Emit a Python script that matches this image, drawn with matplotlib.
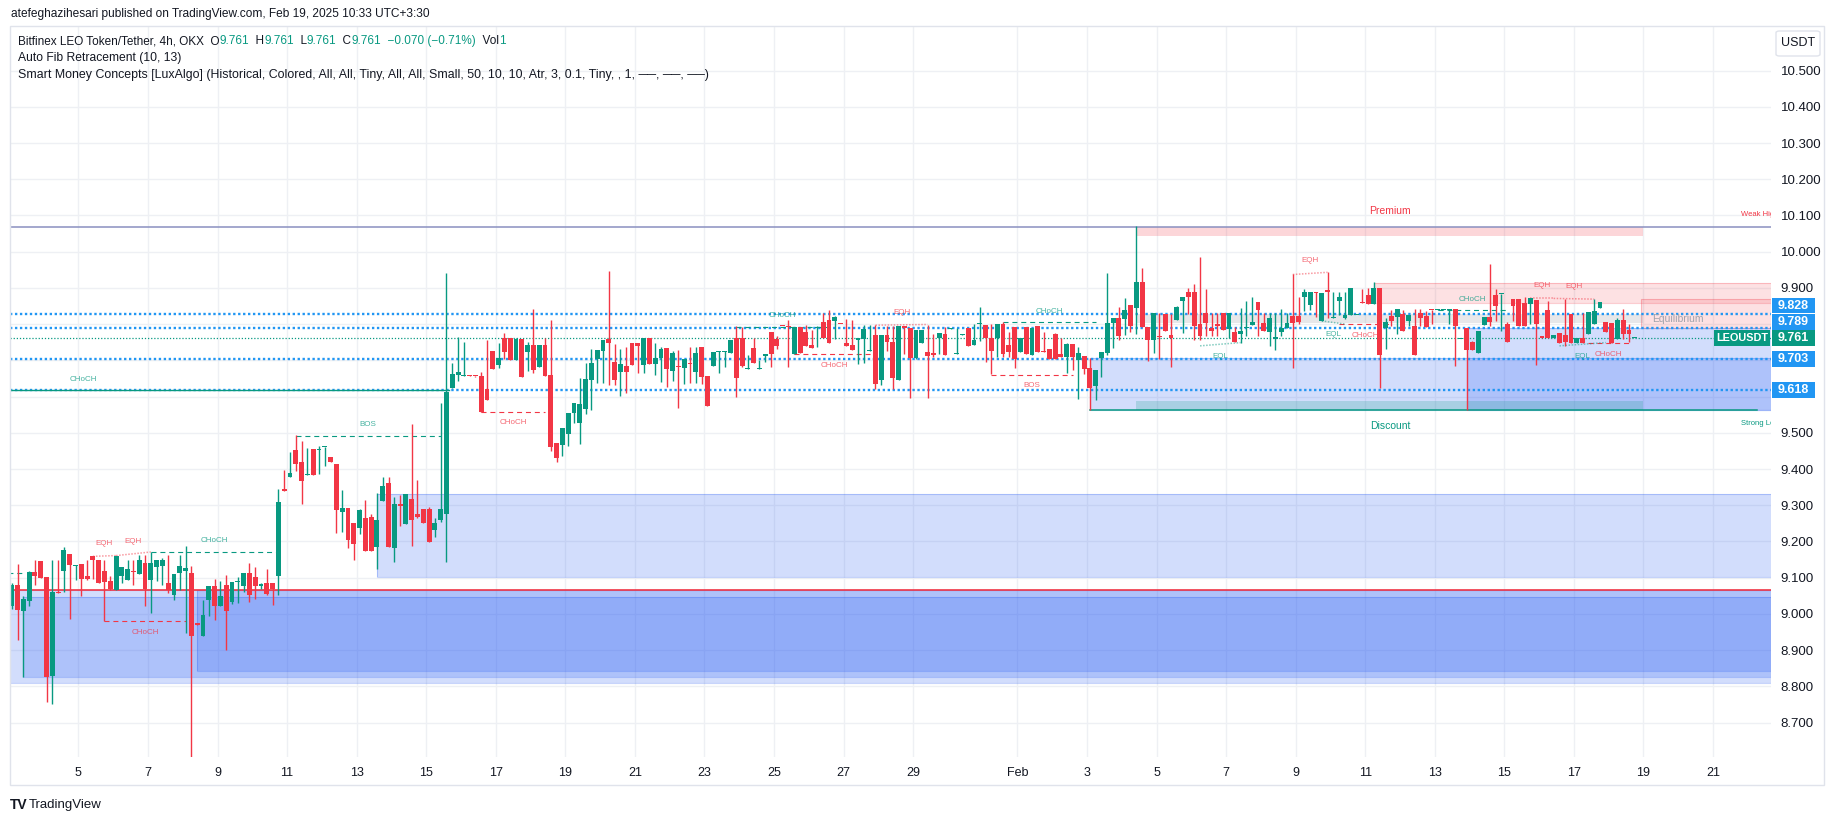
import numpy as np
import pandas as pd
import matplotlib
matplotlib.use("Agg")
import matplotlib.pyplot as plt
import matplotlib.dates as mdates
import matplotlib.transforms as mtransforms
from matplotlib.patches import Rectangle, FancyBboxPatch

plt.rcParams['font.family'] = ['Liberation Sans', 'DejaVu Sans']

# ---- LEO/USDT 4h candles (OKX) ----
first_bar = '2025-01-03 02:00'
opens = [
    9.021, 9.081, 9.007, 9.037, 9.116, 9.147, 9.101, 8.828, 9.061, 9.118,
    9.166, 9.133, 9.139, 9.106, 9.159, 9.150, 9.118, 9.092, 9.065, 9.104,
    9.095, 9.119, 9.111, 9.141, 9.095, 9.129, 9.133, 9.085, 9.051, 9.112,
    9.118, 9.113, 8.976, 8.938, 9.039, 9.078, 9.021, 9.081, 9.033, 9.089,
    9.076, 9.113, 9.102, 9.078, 9.085, 9.085, 9.104, 9.345, 9.378, 9.452,
    9.418, 9.384, 9.454, 9.452, 9.460, 9.432, 9.413, 9.280, 9.292, 9.250,
    9.236, 9.264, 9.268, 9.185, 9.312, 9.361, 9.181, 9.303, 9.249, 9.316,
    9.275, 9.289, 9.289, 9.232, 9.259, 9.277, 9.623, 9.660, 9.656, 9.659,
    9.657, 9.656, 9.622, 9.725, 9.687, 9.763, 9.763, 9.701, 9.758, 9.724,
    9.741, 9.682, 9.741, 9.659, 9.471, 9.466, 9.496, 9.556, 9.526, 9.565,
    9.646, 9.703, 9.726, 9.758, 9.696, 9.668, 9.684, 9.747, 9.747, 9.687,
    9.761, 9.690, 9.706, 9.735, 9.671, 9.685, 9.678, 9.692, 9.668, 9.738,
    9.656, 9.684, 9.723, 9.723, 9.719, 9.763, 9.763, 9.675, 9.733, 9.675,
    9.712, 9.779, 9.758, 9.796, 9.794, 9.717, 9.793, 9.779, 9.743, 9.788,
    9.807, 9.811, 9.809, 9.801, 9.748, 9.743, 9.756, 9.759, 9.725, 9.770,
    9.646, 9.770, 9.752, 9.646, 9.795, 9.789, 9.706, 9.748, 9.722, 9.718,
    9.762, 9.772, 9.787, 9.718, 9.771, 9.788, 9.743, 9.800, 9.797, 9.763,
    9.761, 9.800, 9.743, 9.793, 9.722, 9.791, 9.715, 9.795, 9.725, 9.731,
    9.772, 9.717, 9.708, 9.745, 9.702, 9.711, 9.679, 9.630, 9.706, 9.719,
    9.803, 9.817, 9.814, 9.853, 9.844, 9.915, 9.791, 9.757, 9.767, 9.828,
    9.770, 9.811, 9.864, 9.890, 9.890, 9.800, 9.830, 9.788, 9.799, 9.830,
    9.786, 9.777, 9.774, 9.788, 9.798, 9.860, 9.803, 9.779, 9.759, 9.777,
    9.788, 9.823, 9.823, 9.876, 9.853, 9.890, 9.809, 9.892, 9.816, 9.864,
    9.818, 9.825, 9.824, 9.861, 9.880, 9.855, 9.899, 9.789, 9.822, 9.820,
    9.828, 9.809, 9.795, 9.830, 9.822, 9.840, 9.839, 9.840, 9.840, 9.841,
    9.758, 9.789, 9.752, 9.719, 9.798, 9.821, 9.880, 9.882, 9.800, 9.869,
    9.869, 9.858, 9.855, 9.867, 9.765, 9.839, 9.763, 9.775, 9.770, 9.828,
    9.748, 9.761, 9.772, 9.800, 9.844, 9.805, 9.802, 9.759, 9.811, 9.784,
    9.761]
highs = [
    9.085, 9.139, 9.049, 9.118, 9.150, 9.147, 9.101, 9.150, 9.150, 9.185,
    9.166, 9.135, 9.139, 9.150, 9.159, 9.150, 9.150, 9.104, 9.161, 9.130,
    9.148, 9.150, 9.162, 9.164, 9.171, 9.150, 9.154, 9.162, 9.111, 9.162,
    9.188, 9.131, 8.976, 9.039, 9.078, 9.097, 9.090, 9.108, 9.088, 9.101,
    9.113, 9.141, 9.129, 9.085, 9.124, 9.085, 9.345, 9.398, 9.448, 9.493,
    9.476, 9.459, 9.454, 9.464, 9.462, 9.432, 9.413, 9.341, 9.292, 9.250,
    9.289, 9.314, 9.275, 9.333, 9.378, 9.378, 9.323, 9.327, 9.330, 9.523,
    9.369, 9.289, 9.294, 9.266, 9.581, 9.942, 9.692, 9.765, 9.752, 9.659,
    9.658, 9.669, 9.755, 9.725, 9.749, 9.775, 9.763, 9.763, 9.758, 9.752,
    9.841, 9.741, 9.763, 9.811, 9.471, 9.514, 9.556, 9.581, 9.650, 9.694,
    9.730, 9.728, 9.755, 9.948, 9.744, 9.730, 9.736, 9.747, 9.747, 9.763,
    9.761, 9.749, 9.738, 9.735, 9.725, 9.728, 9.703, 9.738, 9.738, 9.738,
    9.656, 9.724, 9.725, 9.725, 9.755, 9.795, 9.793, 9.716, 9.763, 9.701,
    9.718, 9.779, 9.767, 9.796, 9.811, 9.793, 9.793, 9.797, 9.784, 9.795,
    9.830, 9.839, 9.823, 9.801, 9.814, 9.811, 9.763, 9.798, 9.797, 9.797,
    9.770, 9.795, 9.795, 9.795, 9.795, 9.789, 9.784, 9.784, 9.797, 9.772,
    9.775, 9.791, 9.789, 9.788, 9.773, 9.788, 9.800, 9.848, 9.797, 9.800,
    9.800, 9.805, 9.779, 9.793, 9.761, 9.791, 9.789, 9.795, 9.779, 9.731,
    9.775, 9.763, 9.748, 9.745, 9.736, 9.711, 9.706, 9.673, 9.722, 9.941,
    9.817, 9.848, 9.872, 9.853, 10.070, 9.955, 9.791, 9.832, 9.830, 9.828,
    9.828, 9.851, 9.876, 9.899, 9.910, 9.984, 9.897, 9.832, 9.830, 9.830,
    9.830, 9.791, 9.844, 9.863, 9.874, 9.860, 9.830, 9.830, 9.830, 9.841,
    9.830, 9.938, 9.874, 9.897, 9.889, 9.890, 9.886, 9.943, 9.888, 9.890,
    9.888, 9.899, 9.826, 9.897, 9.901, 9.915, 9.899, 9.816, 9.839, 9.841,
    9.839, 9.825, 9.841, 9.841, 9.836, 9.840, 9.841, 9.841, 9.841, 9.841,
    9.760, 9.789, 9.754, 9.780, 9.821, 9.966, 9.897, 9.884, 9.807, 9.869,
    9.869, 9.874, 9.871, 9.867, 9.765, 9.864, 9.770, 9.775, 9.869, 9.828,
    9.761, 9.830, 9.834, 9.869, 9.860, 9.805, 9.802, 9.818, 9.841, 9.800,
    9.761]
lows = [
    9.014, 8.929, 8.826, 9.021, 9.079, 9.099, 8.756, 8.750, 9.057, 9.060,
    8.987, 9.095, 9.049, 9.094, 9.096, 9.084, 8.980, 9.065, 9.065, 9.084,
    9.095, 9.079, 9.111, 9.021, 9.003, 9.090, 9.079, 9.058, 9.039, 9.065,
    8.947, 8.602, 8.969, 8.938, 8.993, 8.984, 9.021, 8.901, 9.026, 9.030,
    9.060, 9.032, 9.042, 9.068, 9.053, 9.024, 9.053, 9.338, 9.378, 9.395,
    9.303, 9.384, 9.384, 9.385, 9.407, 9.418, 9.224, 9.227, 9.181, 9.149,
    9.220, 9.174, 9.174, 9.123, 9.312, 9.185, 9.144, 9.243, 9.249, 9.188,
    9.266, 9.252, 9.199, 9.213, 9.254, 9.144, 9.623, 9.643, 9.656, 9.656,
    9.655, 9.557, 9.591, 9.675, 9.678, 9.705, 9.701, 9.701, 9.654, 9.671,
    9.664, 9.682, 9.657, 9.450, 9.418, 9.436, 9.464, 9.528, 9.468, 9.553,
    9.563, 9.637, 9.637, 9.632, 9.632, 9.602, 9.609, 9.687, 9.664, 9.664,
    9.690, 9.659, 9.640, 9.626, 9.643, 9.568, 9.636, 9.638, 9.638, 9.636,
    9.574, 9.684, 9.664, 9.681, 9.719, 9.599, 9.681, 9.675, 9.692, 9.675,
    9.695, 9.682, 9.730, 9.794, 9.682, 9.717, 9.720, 9.740, 9.735, 9.736,
    9.763, 9.748, 9.759, 9.799, 9.740, 9.729, 9.690, 9.692, 9.725, 9.621,
    9.633, 9.725, 9.621, 9.646, 9.717, 9.596, 9.703, 9.748, 9.596, 9.708,
    9.717, 9.715, 9.787, 9.718, 9.771, 9.740, 9.743, 9.754, 9.696, 9.662,
    9.708, 9.708, 9.708, 9.680, 9.722, 9.717, 9.715, 9.724, 9.723, 9.703,
    9.703, 9.708, 9.665, 9.673, 9.593, 9.662, 9.563, 9.591, 9.653, 9.715,
    9.734, 9.757, 9.771, 9.777, 9.772, 9.791, 9.699, 9.720, 9.703, 9.782,
    9.682, 9.811, 9.775, 9.828, 9.757, 9.757, 9.768, 9.768, 9.768, 9.784,
    9.763, 9.751, 9.749, 9.768, 9.798, 9.768, 9.782, 9.740, 9.729, 9.768,
    9.788, 9.679, 9.800, 9.837, 9.839, 9.821, 9.809, 9.818, 9.816, 9.824,
    9.815, 9.825, 9.824, 9.859, 9.855, 9.855, 9.623, 9.731, 9.794, 9.772,
    9.782, 9.795, 9.715, 9.795, 9.791, 9.800, 9.839, 9.839, 9.800, 9.685,
    9.758, 9.563, 9.729, 9.719, 9.798, 9.794, 9.809, 9.782, 9.751, 9.809,
    9.795, 9.795, 9.799, 9.687, 9.763, 9.761, 9.763, 9.748, 9.740, 9.748,
    9.748, 9.748, 9.772, 9.800, 9.844, 9.779, 9.748, 9.759, 9.759, 9.751,
    9.761]
closes = [
    9.081, 9.010, 9.042, 9.116, 9.104, 9.099, 8.825, 9.061, 9.057, 9.177,
    9.134, 9.135, 9.097, 9.097, 9.148, 9.084, 9.087, 9.070, 9.161, 9.130,
    9.125, 9.115, 9.150, 9.070, 9.141, 9.150, 9.150, 9.065, 9.111, 9.133,
    9.128, 8.938, 8.969, 8.998, 9.078, 9.021, 9.050, 9.007, 9.088, 9.092,
    9.113, 9.051, 9.076, 9.082, 9.056, 9.070, 9.310, 9.338, 9.389, 9.413,
    9.367, 9.387, 9.384, 9.454, 9.462, 9.420, 9.287, 9.292, 9.204, 9.192,
    9.286, 9.174, 9.174, 9.259, 9.353, 9.185, 9.303, 9.298, 9.330, 9.259,
    9.268, 9.252, 9.199, 9.252, 9.289, 9.614, 9.661, 9.669, 9.660, 9.657,
    9.656, 9.557, 9.591, 9.675, 9.706, 9.724, 9.701, 9.758, 9.654, 9.742,
    9.673, 9.741, 9.657, 9.461, 9.431, 9.514, 9.556, 9.581, 9.579, 9.648,
    9.694, 9.728, 9.755, 9.747, 9.645, 9.689, 9.668, 9.687, 9.740, 9.763,
    9.690, 9.707, 9.730, 9.677, 9.719, 9.682, 9.703, 9.690, 9.719, 9.654,
    9.574, 9.724, 9.725, 9.725, 9.755, 9.650, 9.684, 9.677, 9.692, 9.677,
    9.718, 9.718, 9.740, 9.794, 9.791, 9.793, 9.720, 9.740, 9.735, 9.792,
    9.763, 9.748, 9.820, 9.799, 9.740, 9.729, 9.763, 9.786, 9.729, 9.634,
    9.770, 9.751, 9.651, 9.795, 9.788, 9.706, 9.784, 9.784, 9.713, 9.716,
    9.775, 9.715, 9.789, 9.720, 9.773, 9.740, 9.756, 9.802, 9.763, 9.726,
    9.800, 9.717, 9.724, 9.703, 9.761, 9.717, 9.789, 9.724, 9.723, 9.703,
    9.703, 9.708, 9.745, 9.710, 9.720, 9.676, 9.623, 9.673, 9.722, 9.803,
    9.817, 9.768, 9.839, 9.795, 9.915, 9.791, 9.757, 9.832, 9.765, 9.782,
    9.763, 9.846, 9.876, 9.876, 9.794, 9.768, 9.803, 9.782, 9.795, 9.784,
    9.830, 9.751, 9.780, 9.790, 9.805, 9.840, 9.782, 9.816, 9.765, 9.789,
    9.803, 9.802, 9.807, 9.889, 9.889, 9.885, 9.886, 9.890, 9.819, 9.876,
    9.825, 9.899, 9.826, 9.859, 9.855, 9.899, 9.715, 9.805, 9.808, 9.841,
    9.782, 9.825, 9.715, 9.817, 9.791, 9.838, 9.841, 9.841, 9.841, 9.794,
    9.760, 9.729, 9.729, 9.780, 9.821, 9.807, 9.851, 9.884, 9.751, 9.849,
    9.795, 9.795, 9.871, 9.800, 9.763, 9.761, 9.770, 9.748, 9.750, 9.748,
    9.761, 9.748, 9.834, 9.837, 9.860, 9.779, 9.748, 9.811, 9.774, 9.774,
    9.761]

last_price = 9.761
fib_levels = [9.828, 9.789, 9.703, 9.618]
trail_top = 10.068          # weak high
red_level = 9.065

# structure breaks (Smart Money Concepts)
brk_label = ['CHoCH', '', 'CHoCH', 'CHoCH', 'BOS', 'CHoCH', 'CHoCH', 'CHoCH',
             'BOS', 'CHoCH', 'CHoCH', 'CHoCH', 'CHoCH']
brk_bull = [True, True, True, False, True, False, True, False,
            False, True, False, True, False]
brk_swing = [True, False, False, False, False, False, False, False,
             False, False, False, False, False]
brk_level = [9.617, 9.113, 9.171, 8.980, 9.492, 9.558, 9.793, 9.717,
             9.660, 9.805, 9.800, 9.838, 9.747]
brk_start = ['2024-12-25 15:00', '2025-01-02 12:00', '2025-01-07 02:00', '2025-01-05 18:00',
             '2025-01-11 06:00', '2025-01-16 14:00', '2025-01-23 22:00', '2025-01-25 14:00',
             '2025-01-31 06:00', '2025-01-31 14:00', '2025-02-10 06:00', '2025-02-13 02:00',
             '2025-02-17 10:00']
brk_end = ['2025-01-15 16:00', '2025-01-03 10:00', '2025-01-10 18:00', '2025-01-08 02:00',
           '2025-01-15 10:00', '2025-01-18 10:00', '2025-01-26 14:00', '2025-01-27 22:00',
           '2025-02-02 14:00', '2025-02-03 06:00', '2025-02-11 18:00', '2025-02-15 02:00',
           '2025-02-18 14:00']

# equal highs / lows
eq_label = ['EQH', 'EQH', 'EQH', 'EQL', 'EQH', 'EQL', 'EQH', 'EQH', 'EQL']
eq_t0 = ['2025-01-05 10:00', '2025-01-06 02:00', '2025-01-27 22:00', '2025-02-06 06:00',
         '2025-02-08 22:00', '2025-02-09 18:00', '2025-02-15 18:00', '2025-02-16 10:00',
         '2025-02-16 14:00']
eq_t1 = ['2025-01-06 02:00', '2025-01-07 02:00', '2025-01-29 10:00', '2025-02-07 10:00',
         '2025-02-09 22:00', '2025-02-10 10:00', '2025-02-16 10:00', '2025-02-17 14:00',
         '2025-02-17 22:00']
eq_p0 = [9.159, 9.161, 9.797, 9.740, 9.937, 9.809, 9.871, 9.871, 9.740]
eq_p1 = [9.161, 9.171, 9.799, 9.749, 9.943, 9.800, 9.871, 9.869, 9.749]

# order blocks (extend to the right edge)
ob_bull = [True, True, True, True, True, True, False, False]
ob_start = ['2025-01-02 12:00', '2025-01-03 10:00', '2025-01-08 10:00', '2025-01-13 14:00',
            '2025-02-03 02:00', '2025-02-13 22:00', '2025-02-11 06:00', '2025-02-18 22:00']
ob_top = [9.065, 9.048, 9.065, 9.331, 9.706, 9.790, 9.913, 9.870]
ob_bottom = [8.810, 8.825, 8.842, 9.102, 9.563, 9.563, 9.858, 9.789]

# premium / discount range
zone_start, zone_end = '2025-02-04 10:00', '2025-02-19 00:00'
range_top, range_bottom = 10.068, 9.563
strong_low_start, strong_low_end = '2025-02-03 02:00', '2025-02-22 06:00'

view_start, view_end = '2025-01-03 00:48', '2025-02-22 16:00'

tick_days = ['2025-01-%02d' % d for d in range(5, 30, 2)] + ['2025-02-01'] + \
            ['2025-02-%02d' % d for d in range(3, 22, 2)]

GREEN, RED, BLUE = '#089981', '#f23645', '#2196f3'
OB_BLUE = '#2157f3'
TXT = '#131722'

W, H = 1835, 821
fig = plt.figure(figsize=(W / 100, H / 100), dpi=100)
fig.patch.set_facecolor('white')
ax = fig.add_axes([10 / W, 1 - 757 / H, 1761 / W, 731 / H])

def dn(s):
    return mdates.date2num(pd.Timestamp(s).to_pydatetime())

x_left, x_right = dn(view_start), dn(view_end)

# zones
for bull, s, top, bot in zip(ob_bull, ob_start, ob_top, ob_bottom):
    c = OB_BLUE if bull else RED
    a = 0.2 if bull else 0.15
    x0 = dn(s)
    ax.add_patch(Rectangle((x0, bot), x_right + 1 - x0, top - bot, facecolor=c, alpha=a,
                           edgecolor='none', zorder=1))
    ax.add_patch(Rectangle((x0, bot), x_right + 1 - x0, top - bot, facecolor='none',
                           edgecolor=c, alpha=0.25, lw=0.8, zorder=1))

zs, ze = dn(zone_start), dn(zone_end)
span = range_top - range_bottom
ax.add_patch(Rectangle((zs, range_top - 0.05 * span), ze - zs, 0.05 * span,
                       facecolor=RED, alpha=0.2, lw=0, zorder=1))
ax.add_patch(Rectangle((zs, range_bottom + 0.475 * span), ze - zs, 0.05 * span,
                       facecolor='#878b94', alpha=0.2, lw=0, zorder=1))
ax.add_patch(Rectangle((zs, range_bottom), ze - zs, 0.05 * span,
                       facecolor=GREEN, alpha=0.2, lw=0, zorder=1))
zm = (zs + ze) / 2
ax.text(zm, range_top + 0.043, 'Premium', color=RED, fontsize=7.5, ha='center', va='center', zorder=6)
ax.text(zm, range_bottom - 0.045, 'Discount', color=GREEN, fontsize=7.5, ha='center', va='center', zorder=6)
ax.text(ze + 0.26, range_bottom + 0.5 * span, 'Equilibrium', color='#a0a3ab', fontsize=7.5,
        ha='left', va='center', zorder=6)

# horizontal levels
ax.axhline(trail_top, color='#8a90c0', lw=1.1, zorder=2)
ax.axhline(red_level, color=RED, lw=1.2, zorder=2)
for lv in fib_levels:
    ax.axhline(lv, color=BLUE, lw=1.7, ls=(0, (1, 1.1)), zorder=3)
ax.axhline(last_price, color=GREEN, lw=0.9, ls=(0, (1, 1.5)), zorder=3)
ax.plot([dn(strong_low_start), dn(strong_low_end)], [range_bottom] * 2, color=GREEN, lw=1.1, zorder=3)
ax.text(dn('2025-02-21 19:00'), trail_top + 0.036, 'Weak High', color=RED, fontsize=5.5,
        ha='left', va='center', clip_on=True, zorder=6)
ax.text(dn('2025-02-21 19:00'), range_bottom - 0.037, 'Strong Low', color=GREEN, fontsize=5.5,
        ha='left', va='center', clip_on=True, zorder=6)

# structure breaks
for lab, bull, swing, lv, s, e in zip(brk_label, brk_bull, brk_swing, brk_level, brk_start, brk_end):
    c = GREEN if bull else RED
    x0, x1 = dn(s), dn(e)
    ax.plot([x0, x1], [lv, lv], color=c, lw=1.0 if swing else 0.8,
            ls='-' if swing else (0, (4.5, 3.5)), zorder=3)
    if lab:
        ax.annotate(lab, ((x0 + x1) / 2, lv), xytext=(0, 8 if bull else -8), textcoords='offset points',
                    color=c, alpha=0.75, fontsize=5.8, ha='center', va='center', zorder=6)

for lab, t0, t1, p0, p1 in zip(eq_label, eq_t0, eq_t1, eq_p0, eq_p1):
    c = RED if lab == 'EQH' else GREEN
    x0, x1 = dn(t0), dn(t1)
    ax.plot([x0, x1], [p0, p1], color=c, alpha=0.5, lw=1.1, ls=(0, (1, 1)), zorder=3)
    ax.annotate(lab, ((x0 + x1) / 2, (p0 + p1) / 2), xytext=(0, 9 if lab == 'EQH' else -9),
                textcoords='offset points', color=c, alpha=0.75, fontsize=5.8,
                ha='center', va='center', zorder=6)

# candles
t = pd.date_range(first_bar, periods=len(opens), freq='4h')
x = mdates.date2num(t.to_pydatetime())
o, hi, lo, c = map(np.array, (opens, highs, lows, closes))
col = np.where(c >= o, GREEN, RED)
ax.vlines(x, np.minimum(lo, np.minimum(o, c)), np.maximum(hi, np.maximum(o, c)),
          colors=col, lw=1.0, zorder=4)
ax.bar(x, np.maximum(np.abs(c - o), 0.003), width=0.14, bottom=np.minimum(o, c),
       color=col, lw=0, zorder=5)

# axes
ax.set_xlim(x_left, x_right)
ax.set_ylim(8.605, 10.623)
ax.yaxis.tick_right()
yt = np.round(np.arange(8.7, 10.55, 0.1), 1)
ax.set_yticks(yt)
tx = [dn(d) for d in tick_days]
ax.set_xticks(tx)
ax.set_xticklabels(['Feb' if d.endswith('02-01') else str(int(d[-2:])) for d in tick_days])
ax.tick_params(axis='y', length=0, pad=7, labelsize=9.5, labelcolor=TXT)
ax.tick_params(axis='x', length=0, pad=7, labelsize=9, labelcolor=TXT)
ax.grid(True, color='#eef0f4', lw=1, zorder=0)
ax.set_axisbelow(True)
for sp in ax.spines.values():
    sp.set_visible(False)

# price tags on the axis
blend = mtransforms.blended_transform_factory(ax.transAxes, ax.transData)
tag_h = 0.045
pos = {last_price: last_price}
prev = last_price
for p in sorted([v for v in fib_levels if v > last_price]):
    prev = max(p, prev + tag_h)
    pos[p] = prev
prev = last_price
for p in sorted([v for v in fib_levels if v < last_price], reverse=True):
    prev = min(p, prev - tag_h)
    pos[p] = prev
# tick labels hidden behind a tag are not shown
ax.set_yticklabels(['' if any(abs(v - yp) < 0.02 for yp in pos.values()) else '%.3f' % v for v in yt])

aw = 1761.0
for p, yp in pos.items():
    fc = GREEN if p == last_price else BLUE
    ax.add_patch(Rectangle((1.0004, yp - 0.0215), 43 / aw, 0.043, transform=blend, facecolor=fc,
                           lw=0, clip_on=False, zorder=20))
    ax.text(1.0004 + 21.5 / aw, yp, '%.3f' % p, transform=blend, color='white', fontsize=9,
            fontweight='bold', ha='center', va='center', clip_on=False, zorder=21)
ax.add_patch(Rectangle(((1714 - 10) / aw, last_price - 0.0215), 56 / aw, 0.043, transform=blend,
                       facecolor=GREEN, lw=0, clip_on=False, zorder=20))
ax.text((1742 - 10) / aw, last_price, 'LEOUSDT', transform=blend, color='white', fontsize=7.8,
        fontweight='bold', ha='center', va='center', clip_on=False, zorder=21)

# frame and header
def fx(px):
    return px / W

def fy(py):
    return 1 - py / H

fig.add_artist(Rectangle((fx(10), fy(785)), fx(1824) - fx(10), fy(26) - fy(785),
                         transform=fig.transFigure, facecolor='none', edgecolor='#e0e3eb', lw=1))
fig.add_artist(FancyBboxPatch((fx(1776), fy(56)), fx(44), fy(31) - fy(56),
                              boxstyle='round,pad=0,rounding_size=0.002', transform=fig.transFigure,
                              facecolor='white', edgecolor='#e0e3eb', lw=1))
fig.text(fx(1798), fy(43.5), 'USDT', fontsize=9, color=TXT, ha='center', va='center')

fig.text(fx(11), fy(14), 'atefeghazihesari published on TradingView.com, Feb 19, 2025 10:33 UTC+3:30',
         fontsize=8.6, color=TXT, ha='left', va='center')

fig.canvas.draw()
rend = fig.canvas.get_renderer()

def run(xp, yp, parts, size):
    for s, cl in parts:
        tt = fig.text(fx(xp), fy(yp), s, color=cl, fontsize=size, ha='left', va='center')
        xp += tt.get_window_extent(rend).width

run(18, 41, [('Bitfinex LEO Token/Tether, 4h, OKX  O', TXT), ('9.761', GREEN), ('  H', TXT),
             ('9.761', GREEN), ('  L', TXT), ('9.761', GREEN), ('  C', TXT), ('9.761', GREEN),
             ('  \u22120.070 (\u22120.71%)', GREEN), ('  Vol', TXT), ('1', GREEN)], 8.5)
fig.text(fx(18), fy(58.5), 'Auto Fib Retracement (10, 13)', fontsize=8.7, color=TXT, ha='left', va='center')
fig.text(fx(18), fy(75), 'Smart Money Concepts [LuxAlgo] (Historical, Colored, All, All, Tiny, All, All, '
         'Small, 50, 10, 10, Atr, 3, 0.1, Tiny, , 1, \u2500\u2500, \u2500\u2500, \u2500\u2500)',
         fontsize=8.9, color=TXT, ha='left', va='center')

fig.text(fx(10), fy(805), 'TV', fontsize=10, fontweight='heavy', color=TXT, ha='left', va='center')
fig.text(fx(29), fy(805), 'TradingView', fontsize=9.5, color=TXT, ha='left', va='center')

fig.savefig('out.png', dpi=100)
